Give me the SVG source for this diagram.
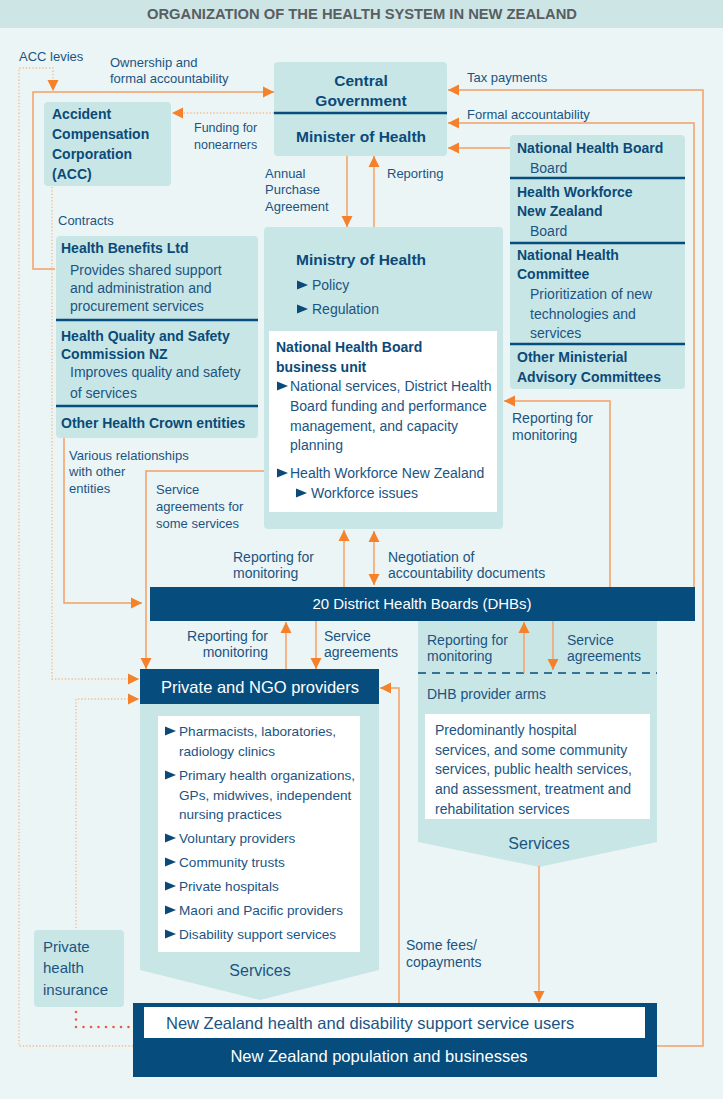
<svg xmlns="http://www.w3.org/2000/svg" width="723" height="1099" viewBox="0 0 723 1099">
<style>
text{font-family:"Liberation Sans",Arial,sans-serif;fill:#1b5482;font-size:14px}
.b{font-weight:bold;fill:#0b4a78}
.t{font-size:15.5px}
.w{fill:#ffffff}
.s13{font-size:13px}
.li{font-size:13.6px}
.box{fill:#c9e6e6}
.dark{fill:#064c7c}
.div{stroke:#064c7c;stroke-width:2.5}
.ln{fill:none;stroke:#f4a065;stroke-width:1.5}
.dot{fill:none;stroke:#f4b98c;stroke-width:1.3;stroke-dasharray:1.3 2}
.bul{fill:#0b4a78}
</style>
<defs>
<marker id="ah" markerUnits="userSpaceOnUse" markerWidth="12" markerHeight="12" refX="11" refY="6" orient="auto-start-reverse" viewBox="0 0 12 12">
<path d="M0,0.5 L11,6 L0,11.5 Z" fill="#f5812a"/>
</marker>
<path id="bl" d="M0,-4.5 L11,0 L0,4.5 Z"/>
</defs>
<rect x="0" y="0" width="723" height="1099" fill="#ebf5f5"/>
<g id="title">
<rect x="0" y="0" width="723" height="28" fill="#cde5e5"/>
<text x="362" y="19" text-anchor="middle" class="b" style="fill:#585e62;font-size:14.5px" textLength="430" lengthAdjust="spacingAndGlyphs">ORGANIZATION OF THE HEALTH SYSTEM IN NEW ZEALAND</text>
</g>

<g id="labels">
<text x="19" y="61" class="s13">ACC levies</text>
<text x="110" y="67" class="s13">Ownership and</text>
<text x="110" y="83" class="s13">formal accountability</text>
<text x="467" y="82" class="s13">Tax payments</text>
<text x="467" y="119" class="s13">Formal accountability</text>
<text x="194" y="132" style="font-size:12.5px">Funding for</text>
<text x="194" y="149" style="font-size:12.5px">nonearners</text>
<text x="265" y="178" class="s13">Annual</text>
<text x="265" y="194" class="s13">Purchase</text>
<text x="265" y="211" class="s13">Agreement</text>
<text x="387" y="178" class="s13">Reporting</text>
<text x="58" y="225" class="s13">Contracts</text>
<text x="69" y="460" class="s13">Various relationships</text>
<text x="69" y="476" class="s13">with other</text>
<text x="69" y="493" class="s13">entities</text>
<text x="156" y="494" class="s13">Service</text>
<text x="156" y="511" class="s13">agreements for</text>
<text x="156" y="528" class="s13">some services</text>
<text x="512" y="423">Reporting for</text>
<text x="512" y="440">monitoring</text>
<text x="233" y="562">Reporting for</text>
<text x="233" y="578">monitoring</text>
<text x="388" y="562">Negotiation of</text>
<text x="388" y="578">accountability documents</text>
<text x="268" y="641" text-anchor="end">Reporting for</text>
<text x="268" y="657" text-anchor="end">monitoring</text>
<text x="324" y="641">Service</text>
<text x="324" y="657">agreements</text>
<text x="406" y="950">Some fees/</text>
<text x="406" y="967">copayments</text>
</g>

<g id="central-government">
<rect x="274" y="62" width="173" height="94" rx="4" class="box"/>
<line x1="274" y1="113" x2="447" y2="113" class="div"/>
<text x="361" y="86" text-anchor="middle" class="b t">Central</text>
<text x="361" y="106" text-anchor="middle" class="b t">Government</text>
<text x="361" y="142" text-anchor="middle" class="b t">Minister of Health</text>
</g>

<g id="acc">
<rect x="44" y="102" width="127" height="84" rx="4" class="box"/>
<text x="52" y="119" class="b">Accident</text>
<text x="52" y="139" class="b">Compensation</text>
<text x="52" y="159" class="b">Corporation</text>
<text x="52" y="179" class="b">(ACC)</text>
</g>

<g id="crown-entities">
<rect x="56" y="236" width="202" height="202" rx="4" class="box"/>
<line x1="56" y1="320" x2="258" y2="320" class="div"/>
<line x1="56" y1="406" x2="258" y2="406" class="div"/>
<text x="61" y="253" class="b">Health Benefits Ltd</text>
<text x="70" y="275">Provides shared support</text>
<text x="70" y="293">and administration and</text>
<text x="70" y="311">procurement services</text>
<text x="61" y="341" class="b">Health Quality and Safety</text>
<text x="61" y="359" class="b">Commission NZ</text>
<text x="70" y="377">Improves quality and safety</text>
<text x="70" y="398">of services</text>
<text x="61" y="428" class="b">Other Health Crown entities</text>
</g>

<g id="ministry">
<rect x="264" y="227" width="239" height="302" rx="4" class="box"/>
<rect x="269" y="331" width="228" height="181" fill="#ffffff"/>
<text x="296" y="265" class="b t">Ministry of Health</text>
<use href="#bl" x="297" y="285" class="bul"/>
<text x="312" y="290">Policy</text>
<use href="#bl" x="297" y="309" class="bul"/>
<text x="312" y="314">Regulation</text>
<text x="276" y="352" class="b">National Health Board</text>
<text x="276" y="372" class="b">business unit</text>
<use href="#bl" x="277" y="386" class="bul"/>
<text x="290" y="391">National services, District Health</text>
<text x="290" y="411">Board funding and performance</text>
<text x="290" y="431">management, and capacity</text>
<text x="290" y="450">planning</text>
<use href="#bl" x="277" y="473" class="bul"/>
<text x="290" y="478">Health Workforce New Zealand</text>
<use href="#bl" x="296" y="493" class="bul"/>
<text x="311" y="498">Workforce issues</text>
</g>

<g id="advisory">
<rect x="510" y="135" width="175" height="254" rx="4" class="box"/>
<line x1="510" y1="178" x2="685" y2="178" class="div"/>
<line x1="510" y1="243" x2="685" y2="243" class="div"/>
<line x1="510" y1="344" x2="685" y2="344" class="div"/>
<text x="517" y="153" class="b">National Health Board</text>
<text x="530" y="173">Board</text>
<text x="517" y="197" class="b">Health Workforce</text>
<text x="517" y="216" class="b">New Zealand</text>
<text x="530" y="236">Board</text>
<text x="517" y="260" class="b">National Health</text>
<text x="517" y="279" class="b">Committee</text>
<text x="530" y="299">Prioritization of new</text>
<text x="530" y="319">technologies and</text>
<text x="530" y="338">services</text>
<text x="517" y="362" class="b">Other Ministerial</text>
<text x="517" y="382" class="b">Advisory Committees</text>
</g>

<g id="dhb-provider-arms">
<polygon points="418,621 657,621 657,842 539,867 418,842" class="box"/>
<line x1="418" y1="673" x2="657" y2="673" stroke="#064c7c" stroke-width="1.5" stroke-dasharray="8 6"/>
<text x="427" y="645">Reporting for</text>
<text x="427" y="661">monitoring</text>
<text x="567" y="645">Service</text>
<text x="567" y="661">agreements</text>
<text x="427" y="699">DHB provider arms</text>
<rect x="425" y="714" width="225" height="105" fill="#ffffff"/>
<text x="435" y="735">Predominantly hospital</text>
<text x="435" y="755">services, and some community</text>
<text x="435" y="774">services, public health services,</text>
<text x="435" y="794">and assessment, treatment and</text>
<text x="435" y="814">rehabilitation services</text>
<text x="539" y="849" text-anchor="middle" style="font-size:16px">Services</text>
</g>

<g id="dhbs">
<rect x="150" y="587" width="545" height="34" class="dark"/>
<text x="422" y="609" text-anchor="middle" class="w" style="font-size:15px">20 District Health Boards (DHBs)</text>
</g>

<g id="private-ngo">
<polygon points="140,704 379,704 379,970 260,1000 140,970" class="box"/>
<rect x="140" y="669" width="239" height="35" class="dark"/>
<text x="260" y="693" text-anchor="middle" class="w" style="font-size:16.5px">Private and NGO providers</text>
<rect x="158" y="716" width="202" height="236" fill="#ffffff"/>
<use href="#bl" x="165" y="731" class="bul"/>
<text x="179" y="736" class="li">Pharmacists, laboratories,</text>
<text x="179" y="756" class="li">radiology clinics</text>
<use href="#bl" x="165" y="775" class="bul"/>
<text x="179" y="780" class="li">Primary health organizations,</text>
<text x="179" y="800" class="li">GPs, midwives, independent</text>
<text x="179" y="819" class="li">nursing practices</text>
<use href="#bl" x="165" y="838" class="bul"/>
<text x="179" y="843" class="li">Voluntary providers</text>
<use href="#bl" x="165" y="862" class="bul"/>
<text x="179" y="867" class="li">Community trusts</text>
<use href="#bl" x="165" y="886" class="bul"/>
<text x="179" y="891" class="li">Private hospitals</text>
<use href="#bl" x="165" y="910" class="bul"/>
<text x="179" y="915" class="li">Maori and Pacific providers</text>
<use href="#bl" x="165" y="934" class="bul"/>
<text x="179" y="939" class="li">Disability support services</text>
<text x="260" y="976" text-anchor="middle" style="font-size:16px">Services</text>
</g>

<g id="private-insurance">
<rect x="34" y="930" width="90" height="77" rx="4" class="box"/>
<text x="43" y="952" style="font-size:15px">Private</text>
<text x="43" y="973" style="font-size:15px">health</text>
<text x="43" y="995" style="font-size:15px">insurance</text>
</g>

<g id="population">
<rect x="133" y="1003" width="524" height="74" class="dark"/>
<rect x="144" y="1007" width="501" height="31" fill="#ffffff"/>
<text x="166" y="1029" style="font-size:16.5px">New Zealand health and disability support service users</text>
<text x="379" y="1062" text-anchor="middle" class="w" style="font-size:16.5px">New Zealand population and businesses</text>
</g>

<g id="connectors">
<polyline class="ln" points="55,269 33,269 33,92 274,92" marker-end="url(#ah)"/>
<polyline class="dot" points="133,1046 19,1046 19,68 53,68 53,91" marker-end="url(#ah)"/>
<polyline class="dot" points="274,113 172,113" marker-end="url(#ah)"/>
<polyline class="dot" points="52,187 52,679 139,679" marker-end="url(#ah)"/>
<polyline class="dot" points="76,928 76,699 139,699" marker-end="url(#ah)"/>
<polyline points="76,1012 76,1027 130,1027" fill="none" stroke="#ef5a3c" stroke-width="2.6" stroke-linecap="round" stroke-dasharray="0 7.5"/>
<polyline class="ln" points="347,156 347,227" marker-end="url(#ah)"/>
<polyline class="ln" points="374,227 374,156" marker-end="url(#ah)"/>
<polyline class="ln" points="657,1046 703,1046 703,90 448,90" marker-end="url(#ah)"/>
<polyline class="ln" points="694,587 694,123 448,123" marker-end="url(#ah)"/>
<polyline class="ln" points="510,148 448,148" marker-end="url(#ah)"/>
<polyline class="ln" points="64,438 64,603 142,603" marker-end="url(#ah)"/>
<polyline class="ln" points="264,471 146,471 146,669" marker-end="url(#ah)"/>
<polyline class="ln" points="610,587 610,401 504,401" marker-end="url(#ah)"/>
<polyline class="ln" points="344,587 344,530" marker-end="url(#ah)"/>
<polyline class="ln" points="374,531 374,585" marker-start="url(#ah)" marker-end="url(#ah)"/>
<polyline class="ln" points="286,669 286,622" marker-end="url(#ah)"/>
<polyline class="ln" points="316,621 316,669" marker-end="url(#ah)"/>
<polyline class="ln" points="524,673 524,622" marker-end="url(#ah)"/>
<polyline class="ln" points="553,621 553,670" marker-end="url(#ah)"/>
<polyline class="ln" points="399,1003 399,688 380,688" marker-end="url(#ah)"/>
<polyline class="ln" points="539,866 539,1002" marker-end="url(#ah)"/>
</g>
</svg>
